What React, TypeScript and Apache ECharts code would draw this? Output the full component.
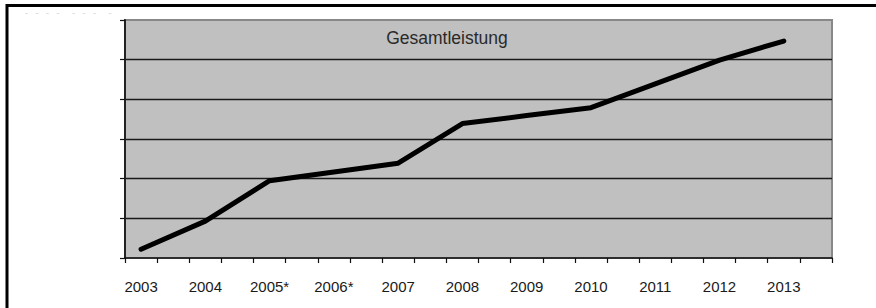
import React, { useEffect, useRef } from "react";
import * as echarts from "echarts";

const years = ["2003", "2004", "2005*", "2006*", "2007", "2008", "2009", "2010", "2011", "2012", "2013"];
const gesamtleistung = [0.22, 0.93, 1.95, 2.17, 2.39, 3.39, 3.59, 3.79, 4.39, 4.99, 5.47];
const titleText = "Gesamtleistung";

export default function App() {
  const ref = useRef<HTMLDivElement>(null);
  useEffect(() => {
    if (!ref.current) return;
    const chart = echarts.init(ref.current, null, { renderer: "svg" });
    const cats: string[] = [];
    const vals: (number | null)[] = [];
    years.forEach((y, i) => {
      cats.push(y);
      vals.push(gesamtleistung[i]);
      cats.push(y + "_h");
      vals.push(null);
    });
    const font = "'Liberation Sans', Arial, sans-serif";
    chart.setOption({
      animation: false,
      grid: {
        left: 125,
        top: 20,
        right: 44,
        bottom: 50,
        show: true,
        backgroundColor: "#c0c0c0",
        borderColor: "#888888",
        borderWidth: 2,
      },
      xAxis: {
        type: "category",
        data: cats,
        boundaryGap: true,
        axisLine: { show: true, lineStyle: { color: "#111", width: 1.5 } },
        axisTick: { show: true, interval: 0, length: 5, lineStyle: { color: "#111", width: 1.2 } },
        axisLabel: {
          interval: 0,
          margin: 21,
          fontSize: 15,
          color: "#1a1a1a",
          fontFamily: font,
          formatter: (v: string) => (v.endsWith("_h") ? "" : v),
        },
        splitLine: { show: false },
      },
      yAxis: {
        type: "value",
        min: 0,
        max: 6,
        interval: 1,
        axisLine: { show: true, lineStyle: { color: "#222", width: 2 } },
        axisTick: { show: true, length: 5, lineStyle: { color: "#111", width: 1.2 } },
        axisLabel: { show: false },
        splitLine: { show: true, showMaxLine: false, showMinLine: false, lineStyle: { color: "#1a1a1a", width: 1.3 } },
      },
      series: [
        {
          type: "line",
          data: vals,
          connectNulls: true,
          showSymbol: false,
          symbol: "none",
          lineStyle: { color: "#000", width: 5, cap: "round", join: "round" },
          z: 5,
        },
      ],
      graphic: [
        {
          type: "text",
          x: 447,
          y: 38,
          z: 10,
          style: {
            text: titleText,
            fontSize: 17.5,
            fontFamily: font,
            fill: "#2a2a2a",
            align: "center",
            verticalAlign: "middle",
          },
        },
        {
          type: "text",
          x: 25,
          y: 13,
          style: {
            text: "-   -   -   -     -   -   -     -",
            fontSize: 9,
            fontFamily: font,
            fill: "#d0d0d0",
            verticalAlign: "middle",
          },
        },
        {
          type: "polyline",
          z: 20,
          shape: { points: [[7, 320], [7, 5.5], [890, 5.5]] },
          style: { stroke: "#000", lineWidth: 3, fill: "none" },
        },
      ],
    });
    return () => chart.dispose();
  }, []);
  return (
    <div
      ref={ref}
      style={{ position: "fixed", left: 0, top: 0, width: 876, height: 308, background: "#fff" }}
    />
  );
}
